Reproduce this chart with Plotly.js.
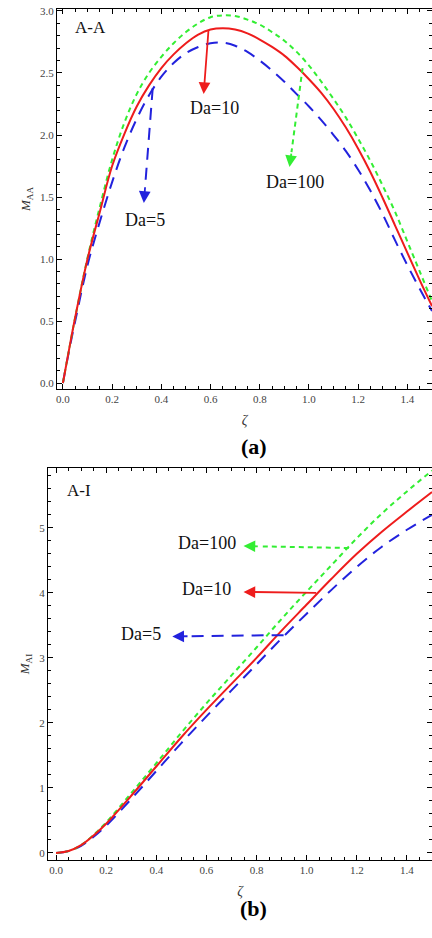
<!DOCTYPE html>
<html>
<head>
<meta charset="utf-8">
<script src="https://cdn.plot.ly/plotly-3.0.1.min.js"></script>
<style>html,body{margin:0;padding:0;background:#fff;}#chart{width:432px;height:938px;}</style>
</head>
<body>
<div id="chart"></div>
<script>
// ---- Panel (a): A-A ----
const zetaA = [0, 0.025, 0.05, 0.1, 0.15, 0.2, 0.25, 0.3, 0.35, 0.4, 0.45, 0.5, 0.55, 0.6, 0.65, 0.7, 0.75, 0.8, 0.85, 0.9, 0.95, 1.0, 1.05, 1.1, 1.15, 1.2, 1.25, 1.3, 1.35, 1.4, 1.45, 1.5];
const mAA_Da5   = [0, 0.26, 0.50, 0.95, 1.30, 1.62, 1.90, 2.13, 2.32, 2.47, 2.58, 2.66, 2.71, 2.74, 2.745, 2.72, 2.67, 2.60, 2.52, 2.43, 2.33, 2.23, 2.12, 2.00, 1.87, 1.72, 1.55, 1.36, 1.15, 0.95, 0.76, 0.58];
const mAA_Da10  = [0, 0.27, 0.53, 1.00, 1.38, 1.75, 2.01, 2.23, 2.40, 2.54, 2.65, 2.74, 2.81, 2.85, 2.86, 2.85, 2.82, 2.77, 2.71, 2.64, 2.55, 2.45, 2.34, 2.21, 2.06, 1.89, 1.70, 1.49, 1.27, 1.05, 0.83, 0.62];
const mAA_Da100 = [0, 0.27, 0.53, 1.01, 1.42, 1.80, 2.10, 2.33, 2.50, 2.63, 2.74, 2.83, 2.90, 2.95, 2.965, 2.96, 2.93, 2.89, 2.83, 2.76, 2.67, 2.56, 2.43, 2.29, 2.14, 1.97, 1.79, 1.59, 1.38, 1.14, 0.90, 0.66];

// ---- Panel (b): A-I ----
const zetaB = [0, 0.05, 0.1, 0.15, 0.2, 0.3, 0.4, 0.5, 0.6, 0.7, 0.8, 0.9, 1.0, 1.1, 1.2, 1.3, 1.4, 1.5];
const mAI_Da5   = [0, 0.03, 0.11, 0.25, 0.42, 0.83, 1.26, 1.69, 2.10, 2.50, 2.90, 3.30, 3.68, 4.05, 4.40, 4.71, 4.97, 5.20];
const mAI_Da10  = [0, 0.03, 0.12, 0.27, 0.45, 0.88, 1.33, 1.78, 2.20, 2.60, 3.00, 3.42, 3.82, 4.22, 4.60, 4.94, 5.25, 5.55];
const mAI_Da100 = [0, 0.03, 0.12, 0.28, 0.47, 0.92, 1.38, 1.85, 2.30, 2.73, 3.16, 3.60, 4.02, 4.43, 4.84, 5.22, 5.56, 5.88];

const seriesNames = ['Da=5', 'Da=10', 'Da=100'];
const colors = {blue: '#2222dd', red: '#ee1c1c', green: '#33ee33'};
const dashes = {blue: '12px,8px', red: 'solid', green: '5px,4px'};
const SERIF = 'Liberation Serif, Times New Roman, serif';

// Annotation callouts: [label, start(x,y) on curve, arrow tip (x,y), text (x,y), colour key]
const calloutsA = [
  ['Da=10',  [0.592, 2.855], [0.572, 2.33],  [0.618, 2.215], 'red'],
  ['Da=100', [0.974, 2.54],  [0.921, 1.742], [0.943, 1.625], 'green'],
  ['Da=5',   [0.365, 2.379], [0.329, 1.452], [0.335, 1.315], 'blue']
];
const calloutsB = [
  ['Da=100', [1.168, 4.69], [0.748, 4.72], [0.725, 4.77], 'green'],
  ['Da=10',  [1.044, 4.00], [0.748, 4.015],[0.708, 4.06], 'red'],
  ['Da=5',   [0.908, 3.35], [0.464, 3.33], [0.428, 3.36], 'blue']
];

function tr(x, y, key, xa, ya) {
  return {x: x, y: y, type: 'scatter', mode: 'lines', xaxis: xa, yaxis: ya, showlegend: false,
          line: {color: colors[key], width: 2, dash: dashes[key], shape: 'spline', smoothing: 1}};
}
const data = [
  tr(zetaA, mAA_Da5, 'blue', 'x', 'y'),
  tr(zetaA, mAA_Da100, 'green', 'x', 'y'),
  tr(zetaA, mAA_Da10, 'red', 'x', 'y'),
  tr(zetaB, mAI_Da5, 'blue', 'x2', 'y2'),
  tr(zetaB, mAI_Da100, 'green', 'x2', 'y2'),
  tr(zetaB, mAI_Da10, 'red', 'x2', 'y2')
];

const annotations = [];
const shapes = [];
function addCallouts(list, xr, yr) {
  list.forEach(c => {
    const [label, s, t, p, key] = c;
    annotations.push({x: p[0], y: p[1], xref: xr, yref: yr, text: label, showarrow: false,
      xanchor: (xr === 'x' ? 'center' : 'right'), yanchor: 'middle',
      font: {family: SERIF, size: 18, color: '#111'}});
    if (key === 'red') {
      annotations.push({x: t[0], y: t[1], xref: xr, yref: yr, ax: s[0], ay: s[1], axref: xr, ayref: yr,
        text: '', showarrow: true, arrowhead: 2, arrowsize: 1.3, arrowwidth: 1.8, arrowcolor: colors[key]});
    } else {
      const f = 0.15;
      const bx = t[0] + (s[0] - t[0]) * f, by = t[1] + (s[1] - t[1]) * f;
      shapes.push({type: 'line', xref: xr, yref: yr, x0: s[0], y0: s[1], x1: bx, y1: by,
        line: {color: colors[key], width: 2, dash: dashes[key]}});
      annotations.push({x: t[0], y: t[1], xref: xr, yref: yr, ax: bx, ay: by, axref: xr, ayref: yr,
        text: '', showarrow: true, arrowhead: 2, arrowsize: 1.3, arrowwidth: 1.8, arrowcolor: colors[key]});
    }
  });
}
addCallouts(calloutsA, 'x', 'y');
addCallouts(calloutsB, 'x2', 'y2');

annotations.push({x: 0.04, y: 2.87, xref: 'x', yref: 'y', text: 'A-A', showarrow: false, xanchor: 'left',
  font: {family: SERIF, size: 17, color: '#111'}});
annotations.push({x: 0.036, y: 5.57, xref: 'x2', yref: 'y2', text: 'A-I', showarrow: false, xanchor: 'left',
  font: {family: SERIF, size: 17, color: '#111'}});
annotations.push({x: 254 / 432, y: 1 - 447 / 938, xref: 'paper', yref: 'paper', text: '<b>(a)</b>', showarrow: false,
  font: {family: SERIF, size: 22, color: '#000'}});
annotations.push({x: 254 / 432, y: 1 - 923 / 938, xref: 'paper', yref: 'paper', text: '<b>(b)</b>', showarrow: false,
  font: {family: SERIF, size: 22, color: '#000'}});

const tickFont = {family: SERIF, size: 11, color: '#444'};
function axis(extra) {
  return Object.assign({
    showline: true, mirror: 'ticks', linecolor: '#000', linewidth: 1,
    ticks: 'inside', ticklen: 5, tickwidth: 1, tickcolor: '#000',
    showgrid: false, zeroline: false, tickfont: tickFont, automargin: false
  }, extra);
}

const layout = {
  width: 432, height: 938,
  margin: {l: 0, r: 0, t: 0, b: 0},
  paper_bgcolor: '#fff', plot_bgcolor: '#fff',
  showlegend: false,
  xaxis: axis({domain: [57/432, 1], anchor: 'y', range: [-0.024, 1.5], dtick: 0.2, tickformat: '.1f',
    minor: {dtick: 0.05, ticks: 'inside', ticklen: 3, tickcolor: '#000'},
    title: {text: '<i>ζ</i>', font: {family: SERIF, size: 14, color: '#333'}, standoff: 10}}),
  yaxis: axis({domain: [1 - 389/938, 1 - 9/938], anchor: 'x', range: [-0.048, 3.016], dtick: 0.5, tickformat: '.1f',
    minor: {dtick: 0.1, ticks: 'inside', ticklen: 3, tickcolor: '#000'},
    title: {text: '<i>M</i><sub>AA</sub>', font: {family: SERIF, size: 13, color: '#333'}, standoff: 6}}),
  xaxis2: axis({domain: [48/432, 1], anchor: 'y2', range: [-0.032, 1.5], dtick: 0.2, tickformat: '.1f',
    minor: {dtick: 0.05, ticks: 'inside', ticklen: 3, tickcolor: '#000'},
    title: {text: '<i>ζ</i>', font: {family: SERIF, size: 14, color: '#333'}, standoff: 10}}),
  yaxis2: axis({domain: [1 - 860/938, 1 - 468/938], anchor: 'x2', range: [-0.108, 5.92], dtick: 1, tickformat: 'd',
    minor: {dtick: 0.2, ticks: 'inside', ticklen: 3, tickcolor: '#000'},
    title: {text: '<i>M</i><sub>AI</sub>', font: {family: SERIF, size: 13, color: '#333'}, standoff: 6}}),
  annotations: annotations,
  shapes: shapes
};

Plotly.newPlot('chart', data, layout, {staticPlot: true, displayModeBar: false});
</script>
</body>
</html>
